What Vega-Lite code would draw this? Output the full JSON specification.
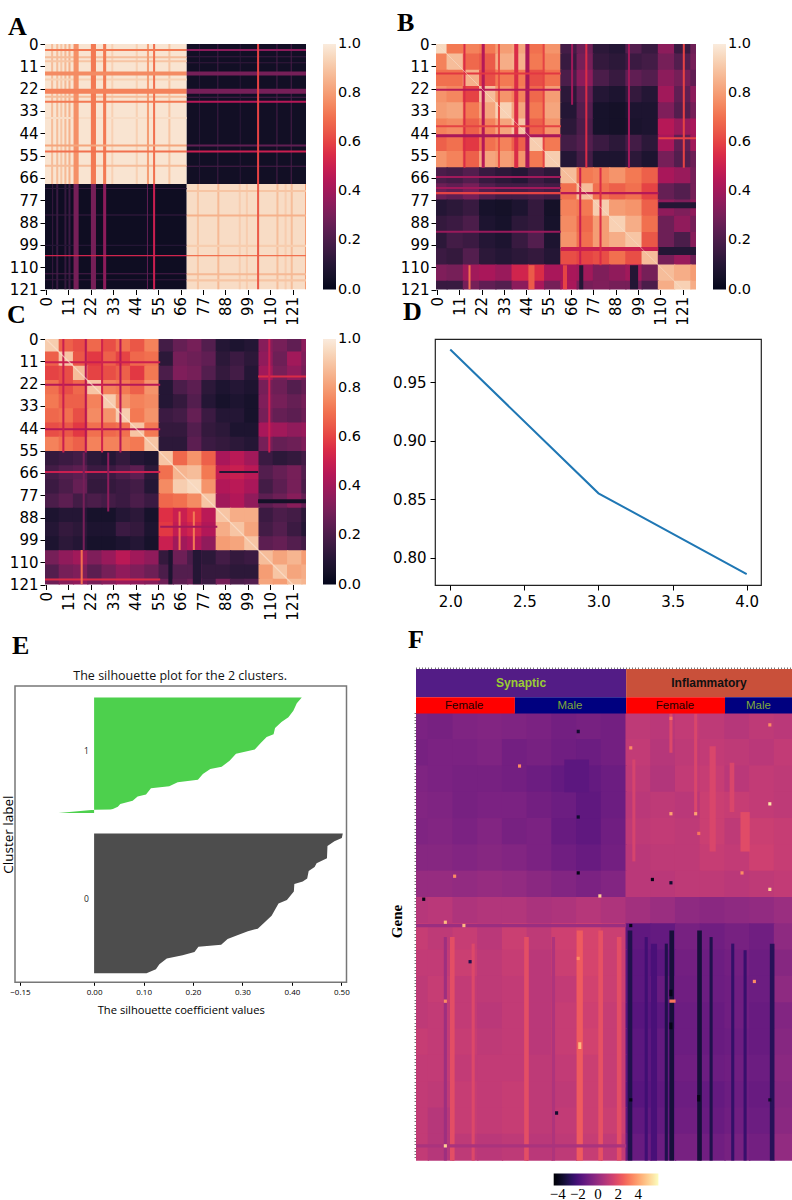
{"$schema":"https://vega.github.io/schema/vega-lite/v6.json","padding":{"left":0,"top":10,"right":0,"bottom":0},"bounds":"flush","spacing":0,"resolve":{"scale":{"color":"independent","fill":"independent"}},"config":{"view":{"stroke":null},"axis":{"grid":false,"labelFont":"DejaVu Sans","labelFontSize":15,"labelColor":"#000","tickColor":"#000","domain":false,"tickSize":5,"labelOverlap":false,"labelFlush":false,"labelPadding":2},"title":{"font":"Liberation Serif","fontWeight":"bold","fontSize":26,"anchor":"start","frame":"group","color":"#000"},"legend":{"gradientThickness":13,"gradientStrokeWidth":0,"labelFont":"DejaVu Sans","labelFontSize":14.5,"labelColor":"#000","labelOffset":12,"labelOverlap":false}},
"vconcat":[
{"bounds":"flush","spacing":0,"resolve":{"scale":{"color":"independent"}},"hconcat":[
{"width":30,"height":1,"mark":{"type":"rule","opacity":0},"encoding":{}},
{"width":261,"height":245.5,"title":{"text":"A","dx":-37,"offset":-3},"mark":{"type":"rect","clip":true},
"data":{"values":[
{"a":-1,"b":69,"c":0,"d":69,"v":0.98},{"a":69,"b":128,"c":0,"d":69,"v":0.04},{"a":-1,"b":69,"c":69,"d":121,"v":0.03},{"a":69,"b":128,"c":69,"d":121,"v":0.96},
{"a":2.5,"b":3.5,"c":0,"d":69,"v":0.88},{"a":5,"b":6,"c":0,"d":69,"v":0.88},{"a":7,"b":8,"c":0,"d":69,"v":0.9},{"a":9,"b":10,"c":0,"d":69,"v":0.87},{"a":11,"b":12,"c":0,"d":69,"v":0.85},{"a":60,"b":61,"c":0,"d":69,"v":0.9},{"a":44,"b":45,"c":0,"d":69,"v":0.93},{"a":32,"b":33,"c":0,"d":69,"v":0.93},
{"a":-1,"b":69,"c":6,"d":7,"v":0.88},{"a":-1,"b":69,"c":8,"d":9,"v":0.9},{"a":-1,"b":69,"c":25.5,"d":26.5,"v":0.88},{"a":-1,"b":69,"c":59.5,"d":60.5,"v":0.88},{"a":-1,"b":69,"c":17,"d":18,"v":0.93},{"a":-1,"b":69,"c":36,"d":37,"v":0.96},
{"a":13.5,"b":16,"c":0,"d":69,"v":0.77},{"a":22,"b":24.5,"c":0,"d":69,"v":0.72},{"a":28,"b":29.5,"c":0,"d":69,"v":0.72},{"a":49.5,"b":50.5,"c":0,"d":69,"v":0.8},{"a":52.5,"b":53.5,"c":0,"d":69,"v":0.7},
{"a":-1,"b":69,"c":2.5,"d":3.5,"v":0.72},{"a":-1,"b":69,"c":13.5,"d":15.5,"v":0.76},{"a":-1,"b":69,"c":22,"d":24.5,"v":0.74},{"a":-1,"b":69,"c":28,"d":29,"v":0.72},{"a":-1,"b":69,"c":49.5,"d":50.5,"v":0.82},{"a":-1,"b":69,"c":52.5,"d":53.5,"v":0.7},
{"a":69,"b":128,"c":6,"d":6.5,"v":0.15},{"a":69,"b":128,"c":9,"d":9.5,"v":0.14},{"a":69,"b":128,"c":60,"d":60.5,"v":0.2},{"a":69,"b":128,"c":26,"d":26.5,"v":0.2},{"a":84,"b":84.5,"c":0,"d":69,"v":0.18},{"a":113,"b":113.5,"c":0,"d":69,"v":0.2},{"a":120,"b":120.5,"c":0,"d":69,"v":0.2},{"a":75,"b":75.5,"c":0,"d":69,"v":0.12},{"a":95,"b":95.5,"c":0,"d":69,"v":0.12},
{"a":69,"b":128,"c":2.5,"d":3.5,"v":0.35},{"a":69,"b":128,"c":13.5,"d":15.5,"v":0.3},{"a":69,"b":128,"c":22,"d":24.5,"v":0.3},{"a":69,"b":128,"c":28,"d":29,"v":0.45},{"a":69,"b":128,"c":49.5,"d":50.5,"v":0.25},{"a":69,"b":128,"c":52.5,"d":53.5,"v":0.5},{"a":103.5,"b":104.5,"c":0,"d":69,"v":0.6},
{"a":3,"b":3.5,"c":69,"d":121,"v":0.15},{"a":5,"b":6,"c":69,"d":121,"v":0.15},{"a":9,"b":10,"c":69,"d":121,"v":0.14},{"a":11,"b":12,"c":69,"d":121,"v":0.16},{"a":-1,"b":69,"c":71,"d":71.5,"v":0.12},{"a":-1,"b":69,"c":84,"d":84.5,"v":0.15},{"a":-1,"b":69,"c":99,"d":99.5,"v":0.1},{"a":-1,"b":69,"c":113,"d":113.5,"v":0.2},{"a":-1,"b":69,"c":116,"d":116.5,"v":0.14},
{"a":13.5,"b":16,"c":69,"d":121,"v":0.3},{"a":22,"b":24.5,"c":69,"d":121,"v":0.3},{"a":28,"b":29.5,"c":69,"d":121,"v":0.35},{"a":49.5,"b":50,"c":69,"d":121,"v":0.25},{"a":52.5,"b":53.5,"c":69,"d":121,"v":0.5},{"a":-1,"b":69,"c":104,"d":104.6,"v":0.52},
{"a":74,"b":75,"c":69,"d":121,"v":0.9},{"a":84,"b":85,"c":69,"d":121,"v":0.87},{"a":94.5,"b":95.5,"c":69,"d":121,"v":0.92},{"a":98,"b":99,"c":69,"d":121,"v":0.92},{"a":113,"b":114,"c":69,"d":121,"v":0.88},{"a":120,"b":121,"c":69,"d":121,"v":0.88},{"a":127,"b":128,"c":69,"d":121,"v":0.8},{"a":117,"b":118,"c":69,"d":121,"v":0.92},
{"a":69,"b":128,"c":72,"d":73,"v":0.9},{"a":69,"b":128,"c":84,"d":85,"v":0.85},{"a":69,"b":128,"c":99,"d":100,"v":0.92},{"a":69,"b":128,"c":113,"d":114,"v":0.87},{"a":69,"b":128,"c":116,"d":117,"v":0.9},{"a":69,"b":128,"c":104,"d":104.6,"v":0.7},{"a":103.5,"b":104.5,"c":69,"d":121,"v":0.65}
]},
"encoding":{"x":{"field":"a","type":"quantitative","title":null,"scale":{"domain":[-0.5,127.5],"nice":false,"zero":false},"axis":{"values":[0,11,22,33,44,55,66,77,88,99,110,121],"labelAngle":270}},"x2":{"field":"b"},"y":{"field":"c","type":"quantitative","title":null,"scale":{"domain":[0,121],"reverse":true,"nice":false,"zero":false},"axis":{"values":[0,11,22,33,44,55,66,77,88,99,110,121]}},"y2":{"field":"d"},"color":{"field":"v","type":"quantitative","title":null,"scale":{"domain":[0,1],"range":["#03051a","#35193e","#701f57","#ad1759","#e13342","#f37651","#f6b48f","#faebdd"]},"legend":{"orient":"none","direction":"vertical","gradientLength":245.5,"legendX":278,"legendY":0,"values":[0,0.2,0.4,0.6,0.8,1],"format":".1f","encoding":{"labels":{"baseline":{"value":"middle"}}}}}}},
{"width":130,"height":1,"mark":{"type":"rule","opacity":0},"encoding":{}},
{"width":260,"height":245.5,"title":{"text":"B","dx":-39,"offset":1},
"encoding":{"x":{"field":"x","type":"quantitative","title":null,"scale":{"domain":[-0.5,127.5],"nice":false,"zero":false},"axis":{"values":[0,11,22,33,44,55,66,77,88,99,110,121],"labelAngle":270}},"y":{"field":"y","type":"quantitative","title":null,"scale":{"domain":[0,121],"reverse":true,"nice":false,"zero":false},"axis":{"values":[0,11,22,33,44,55,66,77,88,99,110,121]}}},
"layer":[{"mark":{"type":"rect","clip":true,"width":17.5,"height":17.5},
"data":{"values":[
{"x":1,"y":1,"v":0.95},{"x":9,"y":1,"v":0.72},{"x":17,"y":1,"v":0.74},{"x":25,"y":1,"v":0.72},{"x":33,"y":1,"v":0.8},{"x":41,"y":1,"v":0.82},{"x":49,"y":1,"v":0.7},{"x":57,"y":1,"v":0.78},{"x":65,"y":1,"v":0.18},{"x":73,"y":1,"v":0.28},{"x":81,"y":1,"v":0.12},{"x":89,"y":1,"v":0.1},{"x":97,"y":1,"v":0.22},{"x":105,"y":1,"v":0.15},{"x":113,"y":1,"v":0.35},{"x":121,"y":1,"v":0.15},{"x":129,"y":1,"v":0.28},
{"x":1,"y":9,"v":0.74},{"x":9,"y":9,"v":0.88},{"x":17,"y":9,"v":0.68},{"x":25,"y":9,"v":0.65},{"x":33,"y":9,"v":0.84},{"x":41,"y":9,"v":0.85},{"x":49,"y":9,"v":0.72},{"x":57,"y":9,"v":0.75},{"x":65,"y":9,"v":0.15},{"x":73,"y":9,"v":0.3},{"x":81,"y":9,"v":0.14},{"x":89,"y":9,"v":0.12},{"x":97,"y":9,"v":0.16},{"x":105,"y":9,"v":0.18},{"x":113,"y":9,"v":0.3},{"x":121,"y":9,"v":0.22},{"x":129,"y":9,"v":0.3},
{"x":1,"y":17,"v":0.7},{"x":9,"y":17,"v":0.7},{"x":17,"y":17,"v":0.85},{"x":25,"y":17,"v":0.62},{"x":33,"y":17,"v":0.72},{"x":41,"y":17,"v":0.72},{"x":49,"y":17,"v":0.62},{"x":57,"y":17,"v":0.7},{"x":65,"y":17,"v":0.2},{"x":73,"y":17,"v":0.35},{"x":81,"y":17,"v":0.2},{"x":89,"y":17,"v":0.15},{"x":97,"y":17,"v":0.25},{"x":105,"y":17,"v":0.22},{"x":113,"y":17,"v":0.35},{"x":121,"y":17,"v":0.3},{"x":129,"y":17,"v":0.25},
{"x":1,"y":25,"v":0.78},{"x":9,"y":25,"v":0.75},{"x":17,"y":25,"v":0.6},{"x":25,"y":25,"v":0.88},{"x":33,"y":25,"v":0.78},{"x":41,"y":25,"v":0.74},{"x":49,"y":25,"v":0.68},{"x":57,"y":25,"v":0.8},{"x":65,"y":25,"v":0.12},{"x":73,"y":25,"v":0.25},{"x":81,"y":25,"v":0.1},{"x":89,"y":25,"v":0.08},{"x":97,"y":25,"v":0.14},{"x":105,"y":25,"v":0.1},{"x":113,"y":25,"v":0.4},{"x":121,"y":25,"v":0.25},{"x":129,"y":25,"v":0.35},
{"x":1,"y":33,"v":0.8},{"x":9,"y":33,"v":0.82},{"x":17,"y":33,"v":0.72},{"x":25,"y":33,"v":0.82},{"x":33,"y":33,"v":0.93},{"x":41,"y":33,"v":0.82},{"x":49,"y":33,"v":0.72},{"x":57,"y":33,"v":0.82},{"x":65,"y":33,"v":0.1},{"x":73,"y":33,"v":0.22},{"x":81,"y":33,"v":0.06},{"x":89,"y":33,"v":0.05},{"x":97,"y":33,"v":0.08},{"x":105,"y":33,"v":0.08},{"x":113,"y":33,"v":0.32},{"x":121,"y":33,"v":0.22},{"x":129,"y":33,"v":0.3},
{"x":1,"y":41,"v":0.74},{"x":9,"y":41,"v":0.76},{"x":17,"y":41,"v":0.66},{"x":25,"y":41,"v":0.74},{"x":33,"y":41,"v":0.82},{"x":41,"y":41,"v":0.9},{"x":49,"y":41,"v":0.66},{"x":57,"y":41,"v":0.78},{"x":65,"y":41,"v":0.12},{"x":73,"y":41,"v":0.2},{"x":81,"y":41,"v":0.06},{"x":89,"y":41,"v":0.05},{"x":97,"y":41,"v":0.07},{"x":105,"y":41,"v":0.08},{"x":113,"y":41,"v":0.45},{"x":121,"y":41,"v":0.38},{"x":129,"y":41,"v":0.42},
{"x":1,"y":49,"v":0.66},{"x":9,"y":49,"v":0.7},{"x":17,"y":49,"v":0.58},{"x":25,"y":49,"v":0.7},{"x":33,"y":49,"v":0.74},{"x":41,"y":49,"v":0.66},{"x":49,"y":49,"v":0.92},{"x":57,"y":49,"v":0.72},{"x":65,"y":49,"v":0.18},{"x":73,"y":49,"v":0.22},{"x":81,"y":49,"v":0.16},{"x":89,"y":49,"v":0.12},{"x":97,"y":49,"v":0.18},{"x":105,"y":49,"v":0.12},{"x":113,"y":49,"v":0.42},{"x":121,"y":49,"v":0.25},{"x":129,"y":49,"v":0.4},
{"x":1,"y":57,"v":0.78},{"x":9,"y":57,"v":0.74},{"x":17,"y":57,"v":0.66},{"x":25,"y":57,"v":0.82},{"x":33,"y":57,"v":0.8},{"x":41,"y":57,"v":0.78},{"x":49,"y":57,"v":0.72},{"x":57,"y":57,"v":0.92},{"x":65,"y":57,"v":0.1},{"x":73,"y":57,"v":0.18},{"x":81,"y":57,"v":0.08},{"x":89,"y":57,"v":0.08},{"x":97,"y":57,"v":0.12},{"x":105,"y":57,"v":0.08},{"x":113,"y":57,"v":0.3},{"x":121,"y":57,"v":0.22},{"x":129,"y":57,"v":0.28},
{"x":1,"y":65,"v":0.2},{"x":9,"y":65,"v":0.18},{"x":17,"y":65,"v":0.22},{"x":25,"y":65,"v":0.15},{"x":33,"y":65,"v":0.12},{"x":41,"y":65,"v":0.1},{"x":49,"y":65,"v":0.16},{"x":57,"y":65,"v":0.12},{"x":65,"y":65,"v":0.88},{"x":73,"y":65,"v":0.72},{"x":81,"y":65,"v":0.74},{"x":89,"y":65,"v":0.78},{"x":97,"y":65,"v":0.72},{"x":105,"y":65,"v":0.66},{"x":113,"y":65,"v":0.42},{"x":121,"y":65,"v":0.38},{"x":129,"y":65,"v":0.3},
{"x":1,"y":73,"v":0.28},{"x":9,"y":73,"v":0.25},{"x":17,"y":73,"v":0.3},{"x":25,"y":73,"v":0.22},{"x":33,"y":73,"v":0.18},{"x":41,"y":73,"v":0.18},{"x":49,"y":73,"v":0.2},{"x":57,"y":73,"v":0.18},{"x":65,"y":73,"v":0.7},{"x":73,"y":73,"v":0.88},{"x":81,"y":73,"v":0.7},{"x":89,"y":73,"v":0.66},{"x":97,"y":73,"v":0.7},{"x":105,"y":73,"v":0.6},{"x":113,"y":73,"v":0.26},{"x":121,"y":73,"v":0.22},{"x":129,"y":73,"v":0.3},
{"x":1,"y":81,"v":0.1},{"x":9,"y":81,"v":0.12},{"x":17,"y":81,"v":0.15},{"x":25,"y":81,"v":0.06},{"x":33,"y":81,"v":0.05},{"x":41,"y":81,"v":0.08},{"x":49,"y":81,"v":0.14},{"x":57,"y":81,"v":0.05},{"x":65,"y":81,"v":0.74},{"x":73,"y":81,"v":0.72},{"x":81,"y":81,"v":0.92},{"x":89,"y":81,"v":0.8},{"x":97,"y":81,"v":0.78},{"x":105,"y":81,"v":0.66},{"x":113,"y":81,"v":0.36},{"x":121,"y":81,"v":0.32},{"x":129,"y":81,"v":0.36},
{"x":1,"y":89,"v":0.14},{"x":9,"y":89,"v":0.16},{"x":17,"y":89,"v":0.2},{"x":25,"y":89,"v":0.08},{"x":33,"y":89,"v":0.06},{"x":41,"y":89,"v":0.12},{"x":49,"y":89,"v":0.14},{"x":57,"y":89,"v":0.06},{"x":65,"y":89,"v":0.76},{"x":73,"y":89,"v":0.68},{"x":81,"y":89,"v":0.8},{"x":89,"y":89,"v":0.93},{"x":97,"y":89,"v":0.84},{"x":105,"y":89,"v":0.7},{"x":113,"y":89,"v":0.28},{"x":121,"y":89,"v":0.36},{"x":129,"y":89,"v":0.3},
{"x":1,"y":97,"v":0.12},{"x":9,"y":97,"v":0.18},{"x":17,"y":97,"v":0.16},{"x":25,"y":97,"v":0.1},{"x":33,"y":97,"v":0.08},{"x":41,"y":97,"v":0.15},{"x":49,"y":97,"v":0.22},{"x":57,"y":97,"v":0.08},{"x":65,"y":97,"v":0.78},{"x":73,"y":97,"v":0.7},{"x":81,"y":97,"v":0.8},{"x":89,"y":97,"v":0.84},{"x":97,"y":97,"v":0.9},{"x":105,"y":97,"v":0.64},{"x":113,"y":97,"v":0.28},{"x":121,"y":97,"v":0.2},{"x":129,"y":97,"v":0.34},
{"x":1,"y":105,"v":0.16},{"x":9,"y":105,"v":0.14},{"x":17,"y":105,"v":0.22},{"x":25,"y":105,"v":0.12},{"x":33,"y":105,"v":0.1},{"x":41,"y":105,"v":0.12},{"x":49,"y":105,"v":0.14},{"x":57,"y":105,"v":0.1},{"x":65,"y":105,"v":0.62},{"x":73,"y":105,"v":0.6},{"x":81,"y":105,"v":0.62},{"x":89,"y":105,"v":0.7},{"x":97,"y":105,"v":0.62},{"x":105,"y":105,"v":0.88},{"x":113,"y":105,"v":0.3},{"x":121,"y":105,"v":0.38},{"x":129,"y":105,"v":0.28},
{"x":1,"y":113,"v":0.32},{"x":9,"y":113,"v":0.3},{"x":17,"y":113,"v":0.4},{"x":25,"y":113,"v":0.42},{"x":33,"y":113,"v":0.38},{"x":41,"y":113,"v":0.52},{"x":49,"y":113,"v":0.55},{"x":57,"y":113,"v":0.42},{"x":65,"y":113,"v":0.42},{"x":73,"y":113,"v":0.4},{"x":81,"y":113,"v":0.32},{"x":89,"y":113,"v":0.36},{"x":97,"y":113,"v":0.4},{"x":105,"y":113,"v":0.3},{"x":113,"y":113,"v":0.88},{"x":121,"y":113,"v":0.84},{"x":129,"y":113,"v":0.8},
{"x":1,"y":121,"v":0.15},{"x":9,"y":121,"v":0.15},{"x":17,"y":121,"v":0.3},{"x":25,"y":121,"v":0.25},{"x":33,"y":121,"v":0.22},{"x":41,"y":121,"v":0.35},{"x":49,"y":121,"v":0.42},{"x":57,"y":121,"v":0.3},{"x":65,"y":121,"v":0.42},{"x":73,"y":121,"v":0.3},{"x":81,"y":121,"v":0.32},{"x":89,"y":121,"v":0.3},{"x":97,"y":121,"v":0.3},{"x":105,"y":121,"v":0.2},{"x":113,"y":121,"v":0.84},{"x":121,"y":121,"v":0.93},{"x":129,"y":121,"v":0.84}
]},
"encoding":{"color":{"field":"v","type":"quantitative","title":null,"scale":{"domain":[0,1],"range":["#03051a","#35193e","#701f57","#ad1759","#e13342","#f37651","#f6b48f","#faebdd"]},"legend":{"orient":"none","direction":"vertical","gradientLength":245.5,"legendX":277,"legendY":0,"values":[0,0.2,0.4,0.6,0.8,1],"format":".1f","encoding":{"labels":{"baseline":{"value":"middle"}}}}}}},
{"mark":{"type":"rect","clip":true},
"data":{"values":[
{"x":22,"b":23.5,"y":0,"d":61,"v":0.45},{"x":43.5,"b":45.5,"y":0,"d":61,"v":0.42},{"x":38,"b":40,"y":0,"d":61,"v":0.55},{"x":13,"b":14,"y":0,"d":61,"v":0.55},{"x":30,"b":31,"y":0,"d":61,"v":0.62},{"x":52,"b":53,"y":0,"d":61,"v":0.6},{"x":-1,"b":61,"y":22,"d":23,"v":0.45},{"x":-1,"b":61,"y":44.5,"d":46,"v":0.42},{"x":-1,"b":61,"y":40,"d":41,"v":0.6},{"x":-1,"b":61,"y":14,"d":15,"v":0.58},
{"x":73,"b":74,"y":0,"d":61,"v":0.55},{"x":66,"b":67,"y":0,"d":30,"v":0.4},{"x":94,"b":95,"y":0,"d":61,"v":0.4},{"x":-1,"b":61,"y":73,"d":74,"v":0.6},{"x":-1,"b":61,"y":70.5,"d":71.5,"v":0.4},{"x":-1,"b":61,"y":92,"d":93,"v":0.38},{"x":-1,"b":61,"y":65,"d":66,"v":0.4},
{"x":61,"b":109,"y":73,"d":74,"v":0.45},{"x":61,"b":109,"y":100,"d":102,"v":0.5},{"x":70,"b":71,"y":61,"d":109,"v":0.5},{"x":80,"b":81,"y":61,"d":109,"v":0.55},
{"x":109,"b":128,"y":100,"d":104,"v":0.1},{"x":109,"b":128,"y":78,"d":81,"v":0.1},{"x":109,"b":128,"y":46,"d":47,"v":0.6},{"x":121,"b":122,"y":0,"d":61,"v":0.6},
{"x":15.5,"b":16.5,"y":109,"d":121,"v":0.7},{"x":45,"b":48,"y":109,"d":121,"v":0.65},{"x":62,"b":64,"y":109,"d":121,"v":0.6},{"x":95,"b":99,"y":109,"d":121,"v":0.1},{"x":70,"b":72,"y":109,"d":121,"v":0.1}
]},
"encoding":{"x2":{"field":"b"},"y2":{"field":"d"},"color":{"field":"v","type":"quantitative","title":null,"scale":{"domain":[0,1],"range":["#03051a","#35193e","#701f57","#ad1759","#e13342","#f37651","#f6b48f","#faebdd"]},"legend":null}}},
{"mark":{"type":"line","color":"#fae4d2","strokeWidth":1,"opacity":0.5,"clip":true},"data":{"values":[{"x":0,"y":0},{"x":121,"y":121}]}}]}
]},
{"width":1,"height":295,"mark":{"type":"rule","opacity":0},"encoding":{}},
{"bounds":"flush","spacing":0,"resolve":{"scale":{"color":"independent"}},"hconcat":[
{"width":30,"height":1,"mark":{"type":"rule","opacity":0},"encoding":{}},
{"width":261,"height":245.5,"title":{"text":"C","dx":-38,"offset":4},
"encoding":{"x":{"field":"x","type":"quantitative","title":null,"scale":{"domain":[-0.5,127.5],"nice":false,"zero":false},"axis":{"values":[0,11,22,33,44,55,66,77,88,99,110,121],"labelAngle":270}},"y":{"field":"y","type":"quantitative","title":null,"scale":{"domain":[0,121],"reverse":true,"nice":false,"zero":false},"axis":{"values":[0,11,22,33,44,55,66,77,88,99,110,121]}}},
"layer":[{"mark":{"type":"rect","clip":true,"width":15.5,"height":15.5},
"data":{"values":[
{"x":3,"y":3,"v":0.92},{"x":10,"y":3,"v":0.66},{"x":17,"y":3,"v":0.62},{"x":24,"y":3,"v":0.68},{"x":31,"y":3,"v":0.62},{"x":38,"y":3,"v":0.7},{"x":45,"y":3,"v":0.64},{"x":52,"y":3,"v":0.74},{"x":59,"y":3,"v":0.18},{"x":66,"y":3,"v":0.26},{"x":73,"y":3,"v":0.3},{"x":80,"y":3,"v":0.22},{"x":87,"y":3,"v":0.1},{"x":94,"y":3,"v":0.08},{"x":101,"y":3,"v":0.1},{"x":108,"y":3,"v":0.34},{"x":115,"y":3,"v":0.3},{"x":122,"y":3,"v":0.25},{"x":129,"y":3,"v":0.35},
{"x":3,"y":10,"v":0.66},{"x":10,"y":10,"v":0.9},{"x":17,"y":10,"v":0.64},{"x":24,"y":10,"v":0.58},{"x":31,"y":10,"v":0.66},{"x":38,"y":10,"v":0.6},{"x":45,"y":10,"v":0.68},{"x":52,"y":10,"v":0.7},{"x":59,"y":10,"v":0.12},{"x":66,"y":10,"v":0.3},{"x":73,"y":10,"v":0.28},{"x":80,"y":10,"v":0.25},{"x":87,"y":10,"v":0.12},{"x":94,"y":10,"v":0.16},{"x":101,"y":10,"v":0.12},{"x":108,"y":10,"v":0.36},{"x":115,"y":10,"v":0.28},{"x":122,"y":10,"v":0.4},{"x":129,"y":10,"v":0.32},
{"x":3,"y":17,"v":0.6},{"x":10,"y":17,"v":0.62},{"x":17,"y":17,"v":0.88},{"x":24,"y":17,"v":0.6},{"x":31,"y":17,"v":0.62},{"x":38,"y":17,"v":0.66},{"x":45,"y":17,"v":0.58},{"x":52,"y":17,"v":0.72},{"x":59,"y":17,"v":0.2},{"x":66,"y":17,"v":0.32},{"x":73,"y":17,"v":0.3},{"x":80,"y":17,"v":0.22},{"x":87,"y":17,"v":0.14},{"x":94,"y":17,"v":0.18},{"x":101,"y":17,"v":0.1},{"x":108,"y":17,"v":0.4},{"x":115,"y":17,"v":0.3},{"x":122,"y":17,"v":0.36},{"x":129,"y":17,"v":0.3},
{"x":3,"y":24,"v":0.7},{"x":10,"y":24,"v":0.62},{"x":17,"y":24,"v":0.68},{"x":24,"y":24,"v":0.9},{"x":31,"y":24,"v":0.74},{"x":38,"y":24,"v":0.72},{"x":45,"y":24,"v":0.66},{"x":52,"y":24,"v":0.78},{"x":59,"y":24,"v":0.1},{"x":66,"y":24,"v":0.2},{"x":73,"y":24,"v":0.24},{"x":80,"y":24,"v":0.12},{"x":87,"y":24,"v":0.08},{"x":94,"y":24,"v":0.1},{"x":101,"y":24,"v":0.08},{"x":108,"y":24,"v":0.3},{"x":115,"y":24,"v":0.28},{"x":122,"y":24,"v":0.22},{"x":129,"y":24,"v":0.26},
{"x":3,"y":31,"v":0.72},{"x":10,"y":31,"v":0.66},{"x":17,"y":31,"v":0.66},{"x":24,"y":31,"v":0.74},{"x":31,"y":31,"v":0.92},{"x":38,"y":31,"v":0.78},{"x":45,"y":31,"v":0.74},{"x":52,"y":31,"v":0.76},{"x":59,"y":31,"v":0.1},{"x":66,"y":31,"v":0.14},{"x":73,"y":31,"v":0.22},{"x":80,"y":31,"v":0.1},{"x":87,"y":31,"v":0.06},{"x":94,"y":31,"v":0.08},{"x":101,"y":31,"v":0.06},{"x":108,"y":31,"v":0.32},{"x":115,"y":31,"v":0.3},{"x":122,"y":31,"v":0.26},{"x":129,"y":31,"v":0.3},
{"x":3,"y":38,"v":0.68},{"x":10,"y":38,"v":0.7},{"x":17,"y":38,"v":0.62},{"x":24,"y":38,"v":0.76},{"x":31,"y":38,"v":0.78},{"x":38,"y":38,"v":0.92},{"x":45,"y":38,"v":0.72},{"x":52,"y":38,"v":0.78},{"x":59,"y":38,"v":0.16},{"x":66,"y":38,"v":0.18},{"x":73,"y":38,"v":0.26},{"x":80,"y":38,"v":0.16},{"x":87,"y":38,"v":0.1},{"x":94,"y":38,"v":0.1},{"x":101,"y":38,"v":0.06},{"x":108,"y":38,"v":0.3},{"x":115,"y":38,"v":0.26},{"x":122,"y":38,"v":0.24},{"x":129,"y":38,"v":0.28},
{"x":3,"y":45,"v":0.62},{"x":10,"y":45,"v":0.64},{"x":17,"y":45,"v":0.58},{"x":24,"y":45,"v":0.7},{"x":31,"y":45,"v":0.68},{"x":38,"y":45,"v":0.7},{"x":45,"y":45,"v":0.9},{"x":52,"y":45,"v":0.72},{"x":59,"y":45,"v":0.14},{"x":66,"y":45,"v":0.14},{"x":73,"y":45,"v":0.22},{"x":80,"y":45,"v":0.14},{"x":87,"y":45,"v":0.12},{"x":94,"y":45,"v":0.08},{"x":101,"y":45,"v":0.08},{"x":108,"y":45,"v":0.42},{"x":115,"y":45,"v":0.4},{"x":122,"y":45,"v":0.36},{"x":129,"y":45,"v":0.38},
{"x":3,"y":52,"v":0.74},{"x":10,"y":52,"v":0.7},{"x":17,"y":52,"v":0.66},{"x":24,"y":52,"v":0.74},{"x":31,"y":52,"v":0.74},{"x":38,"y":52,"v":0.74},{"x":45,"y":52,"v":0.72},{"x":52,"y":52,"v":0.9},{"x":59,"y":52,"v":0.12},{"x":66,"y":52,"v":0.12},{"x":73,"y":52,"v":0.24},{"x":80,"y":52,"v":0.16},{"x":87,"y":52,"v":0.14},{"x":94,"y":52,"v":0.12},{"x":101,"y":52,"v":0.1},{"x":108,"y":52,"v":0.3},{"x":115,"y":52,"v":0.26},{"x":122,"y":52,"v":0.28},{"x":129,"y":52,"v":0.32},
{"x":3,"y":59,"v":0.14},{"x":10,"y":59,"v":0.16},{"x":17,"y":59,"v":0.18},{"x":24,"y":59,"v":0.12},{"x":31,"y":59,"v":0.1},{"x":38,"y":59,"v":0.14},{"x":45,"y":59,"v":0.1},{"x":52,"y":59,"v":0.08},{"x":59,"y":59,"v":0.9},{"x":66,"y":59,"v":0.68},{"x":73,"y":59,"v":0.78},{"x":80,"y":59,"v":0.66},{"x":87,"y":59,"v":0.42},{"x":94,"y":59,"v":0.46},{"x":101,"y":59,"v":0.4},{"x":108,"y":59,"v":0.16},{"x":115,"y":59,"v":0.12},{"x":122,"y":59,"v":0.14},{"x":129,"y":59,"v":0.18},
{"x":3,"y":66,"v":0.18},{"x":10,"y":66,"v":0.22},{"x":17,"y":66,"v":0.24},{"x":24,"y":66,"v":0.16},{"x":31,"y":66,"v":0.16},{"x":38,"y":66,"v":0.2},{"x":45,"y":66,"v":0.24},{"x":52,"y":66,"v":0.12},{"x":59,"y":66,"v":0.7},{"x":66,"y":66,"v":0.86},{"x":73,"y":66,"v":0.88},{"x":80,"y":66,"v":0.72},{"x":87,"y":66,"v":0.48},{"x":94,"y":66,"v":0.5},{"x":101,"y":66,"v":0.46},{"x":108,"y":66,"v":0.22},{"x":115,"y":66,"v":0.26},{"x":122,"y":66,"v":0.3},{"x":129,"y":66,"v":0.22},
{"x":3,"y":73,"v":0.16},{"x":10,"y":73,"v":0.2},{"x":17,"y":73,"v":0.26},{"x":24,"y":73,"v":0.14},{"x":31,"y":73,"v":0.14},{"x":38,"y":73,"v":0.16},{"x":45,"y":73,"v":0.18},{"x":52,"y":73,"v":0.1},{"x":59,"y":73,"v":0.76},{"x":66,"y":73,"v":0.92},{"x":73,"y":73,"v":0.95},{"x":80,"y":73,"v":0.78},{"x":87,"y":73,"v":0.44},{"x":94,"y":73,"v":0.46},{"x":101,"y":73,"v":0.42},{"x":108,"y":73,"v":0.18},{"x":115,"y":73,"v":0.24},{"x":122,"y":73,"v":0.3},{"x":129,"y":73,"v":0.2},
{"x":3,"y":80,"v":0.2},{"x":10,"y":80,"v":0.24},{"x":17,"y":80,"v":0.18},{"x":24,"y":80,"v":0.2},{"x":31,"y":80,"v":0.18},{"x":38,"y":80,"v":0.16},{"x":45,"y":80,"v":0.2},{"x":52,"y":80,"v":0.16},{"x":59,"y":80,"v":0.68},{"x":66,"y":80,"v":0.7},{"x":73,"y":80,"v":0.76},{"x":80,"y":80,"v":0.9},{"x":87,"y":80,"v":0.4},{"x":94,"y":80,"v":0.44},{"x":101,"y":80,"v":0.36},{"x":108,"y":80,"v":0.24},{"x":115,"y":80,"v":0.28},{"x":122,"y":80,"v":0.34},{"x":129,"y":80,"v":0.26},
{"x":3,"y":87,"v":0.08},{"x":10,"y":87,"v":0.1},{"x":17,"y":87,"v":0.1},{"x":24,"y":87,"v":0.06},{"x":31,"y":87,"v":0.06},{"x":38,"y":87,"v":0.1},{"x":45,"y":87,"v":0.12},{"x":52,"y":87,"v":0.06},{"x":59,"y":87,"v":0.56},{"x":66,"y":87,"v":0.5},{"x":73,"y":87,"v":0.56},{"x":80,"y":87,"v":0.46},{"x":87,"y":87,"v":0.9},{"x":94,"y":87,"v":0.84},{"x":101,"y":87,"v":0.84},{"x":108,"y":87,"v":0.16},{"x":115,"y":87,"v":0.2},{"x":122,"y":87,"v":0.18},{"x":129,"y":87,"v":0.12},
{"x":3,"y":94,"v":0.1},{"x":10,"y":94,"v":0.14},{"x":17,"y":94,"v":0.12},{"x":24,"y":94,"v":0.08},{"x":31,"y":94,"v":0.08},{"x":38,"y":94,"v":0.16},{"x":45,"y":94,"v":0.14},{"x":52,"y":94,"v":0.08},{"x":59,"y":94,"v":0.58},{"x":66,"y":94,"v":0.48},{"x":73,"y":94,"v":0.52},{"x":80,"y":94,"v":0.44},{"x":87,"y":94,"v":0.84},{"x":94,"y":94,"v":0.9},{"x":101,"y":94,"v":0.82},{"x":108,"y":94,"v":0.18},{"x":115,"y":94,"v":0.22},{"x":122,"y":94,"v":0.16},{"x":129,"y":94,"v":0.1},
{"x":3,"y":101,"v":0.08},{"x":10,"y":101,"v":0.12},{"x":17,"y":101,"v":0.1},{"x":24,"y":101,"v":0.06},{"x":31,"y":101,"v":0.06},{"x":38,"y":101,"v":0.08},{"x":45,"y":101,"v":0.1},{"x":52,"y":101,"v":0.06},{"x":59,"y":101,"v":0.5},{"x":66,"y":101,"v":0.4},{"x":73,"y":101,"v":0.44},{"x":80,"y":101,"v":0.36},{"x":87,"y":101,"v":0.8},{"x":94,"y":101,"v":0.82},{"x":101,"y":101,"v":0.9},{"x":108,"y":101,"v":0.24},{"x":115,"y":101,"v":0.26},{"x":122,"y":101,"v":0.22},{"x":129,"y":101,"v":0.18},
{"x":3,"y":108,"v":0.3},{"x":10,"y":108,"v":0.36},{"x":17,"y":108,"v":0.4},{"x":24,"y":108,"v":0.32},{"x":31,"y":108,"v":0.38},{"x":38,"y":108,"v":0.46},{"x":45,"y":108,"v":0.4},{"x":52,"y":108,"v":0.36},{"x":59,"y":108,"v":0.14},{"x":66,"y":108,"v":0.28},{"x":73,"y":108,"v":0.2},{"x":80,"y":108,"v":0.12},{"x":87,"y":108,"v":0.18},{"x":94,"y":108,"v":0.14},{"x":101,"y":108,"v":0.16},{"x":108,"y":108,"v":0.88},{"x":115,"y":108,"v":0.82},{"x":122,"y":108,"v":0.86},{"x":129,"y":108,"v":0.8},
{"x":3,"y":115,"v":0.22},{"x":10,"y":115,"v":0.3},{"x":17,"y":115,"v":0.32},{"x":24,"y":115,"v":0.24},{"x":31,"y":115,"v":0.3},{"x":38,"y":115,"v":0.36},{"x":45,"y":115,"v":0.32},{"x":52,"y":115,"v":0.28},{"x":59,"y":115,"v":0.2},{"x":66,"y":115,"v":0.22},{"x":73,"y":115,"v":0.22},{"x":80,"y":115,"v":0.14},{"x":87,"y":115,"v":0.14},{"x":94,"y":115,"v":0.12},{"x":101,"y":115,"v":0.12},{"x":108,"y":115,"v":0.8},{"x":115,"y":115,"v":0.9},{"x":122,"y":115,"v":0.82},{"x":129,"y":115,"v":0.84},
{"x":3,"y":122,"v":0.28},{"x":10,"y":122,"v":0.34},{"x":17,"y":122,"v":0.36},{"x":24,"y":122,"v":0.3},{"x":31,"y":122,"v":0.34},{"x":38,"y":122,"v":0.38},{"x":45,"y":122,"v":0.36},{"x":52,"y":122,"v":0.34},{"x":59,"y":122,"v":0.28},{"x":66,"y":122,"v":0.24},{"x":73,"y":122,"v":0.28},{"x":80,"y":122,"v":0.16},{"x":87,"y":122,"v":0.3},{"x":94,"y":122,"v":0.2},{"x":101,"y":122,"v":0.22},{"x":108,"y":122,"v":0.82},{"x":115,"y":122,"v":0.8},{"x":122,"y":122,"v":0.88},{"x":129,"y":122,"v":0.86}
]},
"encoding":{"color":{"field":"v","type":"quantitative","title":null,"scale":{"domain":[0,1],"range":["#03051a","#35193e","#701f57","#ad1759","#e13342","#f37651","#f6b48f","#faebdd"]},"legend":{"orient":"none","direction":"vertical","gradientLength":245.5,"legendX":278,"legendY":0,"values":[0,0.2,0.4,0.6,0.8,1],"format":".1f","encoding":{"labels":{"baseline":{"value":"middle"}}}}}}},
{"mark":{"type":"rect","clip":true},
"data":{"values":[
{"x":-1,"b":56,"y":22,"d":23,"v":0.45},{"x":-1,"b":56,"y":44,"d":45,"v":0.45},{"x":19,"b":20,"y":0,"d":56,"v":0.45},{"x":36,"b":37,"y":0,"d":56,"v":0.45},{"x":-1,"b":56,"y":11,"d":12,"v":0.5},{"x":8,"b":9,"y":0,"d":56,"v":0.5},{"x":27,"b":28,"y":0,"d":56,"v":0.52},
{"x":-1,"b":56,"y":65,"d":66,"v":0.5},{"x":-1,"b":56,"y":118,"d":119,"v":0.55},{"x":30,"b":31,"y":56,"d":85,"v":0.35},{"x":18,"b":19,"y":56,"d":104,"v":0.3},
{"x":104,"b":128,"y":18,"d":19,"v":0.55},{"x":85,"b":104,"y":65,"d":66,"v":0.1},{"x":104,"b":128,"y":79,"d":81,"v":0.05},{"x":109,"b":110,"y":0,"d":56,"v":0.5},
{"x":17,"b":18,"y":104,"d":121,"v":0.7},{"x":60,"b":62,"y":104,"d":121,"v":0.08},{"x":72,"b":76,"y":104,"d":121,"v":0.1},{"x":65,"b":66,"y":85,"d":104,"v":0.7},{"x":72,"b":73,"y":85,"d":104,"v":0.72},{"x":56,"b":84,"y":92,"d":93,"v":0.4}
]},
"encoding":{"x2":{"field":"b"},"y2":{"field":"d"},"color":{"field":"v","type":"quantitative","title":null,"scale":{"domain":[0,1],"range":["#03051a","#35193e","#701f57","#ad1759","#e13342","#f37651","#f6b48f","#faebdd"]},"legend":null}}},
{"mark":{"type":"line","color":"#fae4d2","strokeWidth":1.2,"opacity":0.65,"clip":true},"data":{"values":[{"x":0,"y":0},{"x":121,"y":121}]}}]},
{"width":129,"height":1,"mark":{"type":"rule","opacity":0},"encoding":{}},
{"width":326,"height":246,"title":{"text":"D","dx":-32,"offset":14},"view":{"stroke":"#222","strokeWidth":1.2},"mark":{"type":"line","color":"#1f77b4","strokeWidth":2},
"data":{"values":[{"k":2,"s":0.978},{"k":3,"s":0.855},{"k":4,"s":0.786}]},
"encoding":{"x":{"field":"k","type":"quantitative","title":null,"scale":{"domain":[1.897,4.0965],"nice":false,"zero":false},"axis":{"values":[2,2.5,3,3.5,4],"format":".1f","labelPadding":4}},"y":{"field":"s","type":"quantitative","title":null,"scale":{"domain":[0.7766,0.987],"nice":false,"zero":false},"axis":{"values":[0.8,0.85,0.9,0.95],"format":".2f","labelPadding":4}}}}
]},
{"width":1,"height":329.8,"mark":{"type":"rule","opacity":0},"encoding":{}},
{"bounds":"flush","spacing":0,"resolve":{"scale":{"color":"independent"}},"hconcat":[
{"bounds":"flush","spacing":0,"vconcat":[
{"width":1,"height":17,"mark":{"type":"rule","opacity":0},"encoding":{}},
{"width":331.5,"height":296.3,"view":{"stroke":"#777","strokeWidth":1.5},
"encoding":{"x":{"field":"v","type":"quantitative","scale":{"domain":[-0.16,0.5105],"nice":false,"zero":false},"axis":{"values":[-0.15,0,0.1,0.2,0.3,0.4,0.5],"format":".2f","labelFont":"Open Sans","labelFontSize":8,"tickSize":3,"labelPadding":3,"title":"The silhouette coefficient values","titleFont":"Open Sans","titleFontSize":11.2,"titleFontWeight":"normal","titlePadding":8}},"y":{"field":"s","type":"quantitative","scale":{"domain":[5.6,149.8],"nice":false,"zero":false},"axis":{"labels":false,"ticks":false,"title":"Cluster label","titleFont":"Open Sans","titleFontSize":13.5,"titleFontWeight":"normal","titlePadding":0}}},
"layer":[
{"mark":{"type":"area","orient":"horizontal","color":"#4dd04d"},"data":{"values":[{"v":-0.072,"s":88},{"v":0,"s":89.6},{"v":0.033,"s":89.7},{"v":0.038,"s":90},{"v":0.048,"s":91},{"v":0.053,"s":92.4},{"v":0.078,"s":94},{"v":0.088,"s":96},{"v":0.105,"s":97},{"v":0.115,"s":100},{"v":0.152,"s":101},{"v":0.169,"s":103},{"v":0.21,"s":104.2},{"v":0.22,"s":107},{"v":0.235,"s":109.4},{"v":0.258,"s":110.5},{"v":0.274,"s":113.4},{"v":0.287,"s":116.8},{"v":0.325,"s":118.9},{"v":0.337,"s":122},{"v":0.349,"s":125},{"v":0.363,"s":126.3},{"v":0.366,"s":129.4},{"v":0.379,"s":132.3},{"v":0.393,"s":134.6},{"v":0.403,"s":137.8},{"v":0.41,"s":141.4},{"v":0.42,"s":144.2}]},"encoding":{"x2":{"datum":0}}},
{"mark":{"type":"area","orient":"horizontal","color":"#4d4d4d"},"data":{"values":[{"v":0.106,"s":10},{"v":0.125,"s":11.9},{"v":0.132,"s":14.4},{"v":0.147,"s":17.2},{"v":0.179,"s":18.8},{"v":0.203,"s":20.4},{"v":0.211,"s":22.9},{"v":0.257,"s":23.9},{"v":0.27,"s":26.7},{"v":0.287,"s":28.3},{"v":0.311,"s":30.5},{"v":0.331,"s":31.7},{"v":0.344,"s":34.6},{"v":0.359,"s":38},{"v":0.373,"s":44},{"v":0.39,"s":45.6},{"v":0.404,"s":49.8},{"v":0.405,"s":53.5},{"v":0.422,"s":54.6},{"v":0.431,"s":56.1},{"v":0.434,"s":59.8},{"v":0.446,"s":61.7},{"v":0.45,"s":63.5},{"v":0.471,"s":66},{"v":0.472,"s":71.9},{"v":0.486,"s":74.3},{"v":0.501,"s":75.8},{"v":0.503,"s":78}]},"encoding":{"x2":{"datum":0}}},
{"mark":{"type":"text","font":"Open Sans","fontSize":8.5,"color":"#222"},"data":{"values":[{"v":-0.0155,"s":118,"t":"1"},{"v":-0.0155,"s":46,"t":"0"}]},"encoding":{"text":{"field":"t"}}},
{"mark":{"type":"text","font":"Open Sans","fontSize":12.5,"color":"#111"},"data":{"values":[{"v":0.174,"s":154.9,"t":"The silhouette plot for the 2 clusters."}]},"encoding":{"text":{"field":"t"}}},
{"mark":{"type":"text","font":"Liberation Serif","fontWeight":"bold","fontSize":26,"align":"left","baseline":"alphabetic","color":"#000"},"data":{"values":[{"v":-0.166,"s":165.5,"t":"E"}]},"encoding":{"text":{"field":"t"}}}
]}]},
{"width":400.5,"height":1,"mark":{"type":"rule","opacity":0},"encoding":{}},
{"width":377,"height":491.7,"title":{"text":"F","dx":-8,"offset":14},
"encoding":{"x":{"field":"x","type":"quantitative","title":null,"scale":{"domain":[0,122],"nice":false,"zero":false},"axis":{"orient":"top","labels":false,"tickSize":2,"tickColor":"#777","values":[0,1,2,3,4,5,6,7,8,9,10,11,12,13,14,15,16,17,18,19,20,21,22,23,24,25,26,27,28,29,30,31,32,33,34,35,36,37,38,39,40,41,42,43,44,45,46,47,48,49,50,51,52,53,54,55,56,57,58,59,60,61,62,63,64,65,66,67,68,69,70,71,72,73,74,75,76,77,78,79,80,81,82,83,84,85,86,87,88,89,90,91,92,93,94,95,96,97,98,99,100,101,102,103,104,105,106,107,108,109,110,111,112,113,114,115,116,117,118,119,120,121]}},"y":{"field":"y","type":"quantitative","scale":{"domain":[-13.5,136],"reverse":true,"nice":false,"zero":false},"axis":{"labels":false,"tickSize":2,"tickColor":"#777","title":"Gene","titleFont":"Liberation Serif","titleFontSize":15,"titleFontWeight":"bold","titleColor":"#000","titleX":-12,"titleY":252,"values":[0,1,2,3,4,5,6,7,8,9,10,11,12,13,14,15,16,17,18,19,20,21,22,23,24,25,26,27,28,29,30,31,32,33,34,35,36,37,38,39,40,41,42,43,44,45,46,47,48,49,50,51,52,53,54,55,56,57,58,59,60,61,62,63,64,65,66,67,68,69,70,71,72,73,74,75,76,77,78,79,80,81,82,83,84,85,86,87,88,89,90,91,92,93,94,95,96,97,98,99,100,101,102,103,104,105,106,107,108,109,110,111,112,113,114,115,116,117,118,119,120,121,122,123,124,125,126,127,128,129,130,131,132,133,134,135]}}},
"layer":[
{"mark":{"type":"rect","clip":true,"width":26,"height":27.5},
"data":{"values":[
{"x":0,"y":4,"v":-0.7},{"x":8,"y":4,"v":-0.8},{"x":16,"y":4,"v":-0.6},{"x":24,"y":4,"v":-0.5},{"x":32,"y":4,"v":-0.6},{"x":40,"y":4,"v":-0.7},{"x":48,"y":4,"v":-0.9},{"x":56,"y":4,"v":-0.8},{"x":64,"y":4,"v":-0.9},{"x":72,"y":4,"v":1},{"x":80,"y":4,"v":0.9},{"x":88,"y":4,"v":1.1},{"x":96,"y":4,"v":1},{"x":104,"y":4,"v":0.8},{"x":112,"y":4,"v":1},{"x":120,"y":4,"v":0.9},
{"x":0,"y":12,"v":-0.8},{"x":8,"y":12,"v":-0.7},{"x":16,"y":12,"v":-0.7},{"x":24,"y":12,"v":-0.6},{"x":32,"y":12,"v":-0.9},{"x":40,"y":12,"v":-0.8},{"x":48,"y":12,"v":-1},{"x":56,"y":12,"v":-1.1},{"x":64,"y":12,"v":-0.9},{"x":72,"y":12,"v":1.1},{"x":80,"y":12,"v":0.8},{"x":88,"y":12,"v":1},{"x":96,"y":12,"v":1.1},{"x":104,"y":12,"v":1},{"x":112,"y":12,"v":0.9},{"x":120,"y":12,"v":1.1},
{"x":0,"y":20,"v":-0.6},{"x":8,"y":20,"v":-0.7},{"x":16,"y":20,"v":-0.8},{"x":24,"y":20,"v":-0.8},{"x":32,"y":20,"v":-0.9},{"x":40,"y":20,"v":-1.1},{"x":48,"y":20,"v":-1.3},{"x":56,"y":20,"v":-1.3},{"x":64,"y":20,"v":-1.1},{"x":72,"y":20,"v":1},{"x":80,"y":20,"v":0.7},{"x":88,"y":20,"v":1.1},{"x":96,"y":20,"v":1.2},{"x":104,"y":20,"v":0.9},{"x":112,"y":20,"v":1.1},{"x":120,"y":20,"v":1},
{"x":0,"y":28,"v":-0.5},{"x":8,"y":28,"v":-0.6},{"x":16,"y":28,"v":-0.8},{"x":24,"y":28,"v":-0.7},{"x":32,"y":28,"v":-0.7},{"x":40,"y":28,"v":-0.9},{"x":48,"y":28,"v":-1.1},{"x":56,"y":28,"v":-1.4},{"x":64,"y":28,"v":-1.1},{"x":72,"y":28,"v":0.9},{"x":80,"y":28,"v":1},{"x":88,"y":28,"v":0.9},{"x":96,"y":28,"v":1.3},{"x":104,"y":28,"v":1.2},{"x":112,"y":28,"v":1.1},{"x":120,"y":28,"v":1},
{"x":0,"y":36,"v":-0.6},{"x":8,"y":36,"v":-0.5},{"x":16,"y":36,"v":-0.7},{"x":24,"y":36,"v":-0.5},{"x":32,"y":36,"v":-0.8},{"x":40,"y":36,"v":-0.7},{"x":48,"y":36,"v":-1.2},{"x":56,"y":36,"v":-1.4},{"x":64,"y":36,"v":-1},{"x":72,"y":36,"v":1},{"x":80,"y":36,"v":1.1},{"x":88,"y":36,"v":1},{"x":96,"y":36,"v":1.3},{"x":104,"y":36,"v":1},{"x":112,"y":36,"v":1.3},{"x":120,"y":36,"v":1.2},
{"x":0,"y":44,"v":-0.4},{"x":8,"y":44,"v":-0.4},{"x":16,"y":44,"v":-0.5},{"x":24,"y":44,"v":-0.4},{"x":32,"y":44,"v":-0.5},{"x":40,"y":44,"v":-0.7},{"x":48,"y":44,"v":-1},{"x":56,"y":44,"v":-1.2},{"x":64,"y":44,"v":-0.9},{"x":72,"y":44,"v":0.9},{"x":80,"y":44,"v":1},{"x":88,"y":44,"v":1},{"x":96,"y":44,"v":1.2},{"x":104,"y":44,"v":1.1},{"x":112,"y":44,"v":1.4},{"x":120,"y":44,"v":1.2},
{"x":0,"y":52,"v":0},{"x":8,"y":52,"v":0},{"x":16,"y":52,"v":-0.1},{"x":24,"y":52,"v":0},{"x":32,"y":52,"v":-0.1},{"x":40,"y":52,"v":-0.3},{"x":48,"y":52,"v":-0.5},{"x":56,"y":52,"v":-0.7},{"x":64,"y":52,"v":-0.5},{"x":72,"y":52,"v":0.9},{"x":80,"y":52,"v":0.9},{"x":88,"y":52,"v":1},{"x":96,"y":52,"v":1},{"x":104,"y":52,"v":0.9},{"x":112,"y":52,"v":1},{"x":120,"y":52,"v":1.1},
{"x":0,"y":60,"v":0.8},{"x":8,"y":60,"v":0.9},{"x":16,"y":60,"v":0.6},{"x":24,"y":60,"v":0.7},{"x":32,"y":60,"v":0.7},{"x":40,"y":60,"v":0.5},{"x":48,"y":60,"v":0.6},{"x":56,"y":60,"v":0.8},{"x":64,"y":60,"v":0.6},{"x":72,"y":60,"v":0.3},{"x":80,"y":60,"v":0.1},{"x":88,"y":60,"v":-0.2},{"x":96,"y":60,"v":-0.3},{"x":104,"y":60,"v":-0.2},{"x":112,"y":60,"v":-0.1},{"x":120,"y":60,"v":0.1},
{"x":0,"y":68,"v":1.2},{"x":8,"y":68,"v":1},{"x":16,"y":68,"v":1.2},{"x":24,"y":68,"v":0.9},{"x":32,"y":68,"v":1.3},{"x":40,"y":68,"v":1},{"x":48,"y":68,"v":1.4},{"x":56,"y":68,"v":1.6},{"x":64,"y":68,"v":1.3},{"x":72,"y":68,"v":-1.4},{"x":80,"y":68,"v":-1.3},{"x":88,"y":68,"v":-0.8},{"x":96,"y":68,"v":-1},{"x":104,"y":68,"v":-0.8},{"x":112,"y":68,"v":-1},{"x":120,"y":68,"v":-0.2},
{"x":0,"y":76,"v":1.1},{"x":8,"y":76,"v":1.1},{"x":16,"y":76,"v":1.3},{"x":24,"y":76,"v":1},{"x":32,"y":76,"v":1.2},{"x":40,"y":76,"v":0.9},{"x":48,"y":76,"v":1.3},{"x":56,"y":76,"v":1.6},{"x":64,"y":76,"v":1.3},{"x":72,"y":76,"v":-1.5},{"x":80,"y":76,"v":-1.5},{"x":88,"y":76,"v":-0.9},{"x":96,"y":76,"v":-1.1},{"x":104,"y":76,"v":-0.9},{"x":112,"y":76,"v":-1.1},{"x":120,"y":76,"v":-0.4},
{"x":0,"y":84,"v":1},{"x":8,"y":84,"v":1.2},{"x":16,"y":84,"v":1.1},{"x":24,"y":84,"v":1},{"x":32,"y":84,"v":1.1},{"x":40,"y":84,"v":0.9},{"x":48,"y":84,"v":1.1},{"x":56,"y":84,"v":1.5},{"x":64,"y":84,"v":1.3},{"x":72,"y":84,"v":-1.5},{"x":80,"y":84,"v":-1.2},{"x":88,"y":84,"v":-1},{"x":96,"y":84,"v":-1.1},{"x":104,"y":84,"v":-1},{"x":112,"y":84,"v":-1.1},{"x":120,"y":84,"v":-0.2},
{"x":0,"y":92,"v":1},{"x":8,"y":92,"v":1.1},{"x":16,"y":92,"v":1.1},{"x":24,"y":92,"v":0.9},{"x":32,"y":92,"v":1.1},{"x":40,"y":92,"v":0.9},{"x":48,"y":92,"v":1.2},{"x":56,"y":92,"v":1.4},{"x":64,"y":92,"v":1.2},{"x":72,"y":92,"v":-1.6},{"x":80,"y":92,"v":-1.5},{"x":88,"y":92,"v":-1.1},{"x":96,"y":92,"v":-1.2},{"x":104,"y":92,"v":-1},{"x":112,"y":92,"v":-1.2},{"x":120,"y":92,"v":-0.5},
{"x":0,"y":100,"v":1.2},{"x":8,"y":100,"v":1.1},{"x":16,"y":100,"v":1.2},{"x":24,"y":100,"v":1},{"x":32,"y":100,"v":1.1},{"x":40,"y":100,"v":0.9},{"x":48,"y":100,"v":1.2},{"x":56,"y":100,"v":1.5},{"x":64,"y":100,"v":1.2},{"x":72,"y":100,"v":-1.5},{"x":80,"y":100,"v":-1.3},{"x":88,"y":100,"v":-1.1},{"x":96,"y":100,"v":-1.2},{"x":104,"y":100,"v":-1.1},{"x":112,"y":100,"v":-1.2},{"x":120,"y":100,"v":-0.4},
{"x":0,"y":108,"v":1.1},{"x":8,"y":108,"v":1.1},{"x":16,"y":108,"v":1.1},{"x":24,"y":108,"v":1.1},{"x":32,"y":108,"v":1.1},{"x":40,"y":108,"v":1},{"x":48,"y":108,"v":1.1},{"x":56,"y":108,"v":1.3},{"x":64,"y":108,"v":1.2},{"x":72,"y":108,"v":-1.5},{"x":80,"y":108,"v":-1.3},{"x":88,"y":108,"v":-1},{"x":96,"y":108,"v":-1.1},{"x":104,"y":108,"v":-1},{"x":112,"y":108,"v":-1.1},{"x":120,"y":108,"v":-0.3},
{"x":0,"y":116,"v":1.1},{"x":8,"y":116,"v":1},{"x":16,"y":116,"v":1.2},{"x":24,"y":116,"v":1.1},{"x":32,"y":116,"v":1.2},{"x":40,"y":116,"v":1},{"x":48,"y":116,"v":1},{"x":56,"y":116,"v":1.3},{"x":64,"y":116,"v":1.2},{"x":72,"y":116,"v":-1.6},{"x":80,"y":116,"v":-1.4},{"x":88,"y":116,"v":-1.1},{"x":96,"y":116,"v":-1.3},{"x":104,"y":116,"v":-1.1},{"x":112,"y":116,"v":-1.2},{"x":120,"y":116,"v":-0.4},
{"x":0,"y":124,"v":1.1},{"x":8,"y":124,"v":0.8},{"x":16,"y":124,"v":1.2},{"x":24,"y":124,"v":1.1},{"x":32,"y":124,"v":1.2},{"x":40,"y":124,"v":1},{"x":48,"y":124,"v":1.1},{"x":56,"y":124,"v":1.3},{"x":64,"y":124,"v":1.3},{"x":72,"y":124,"v":-1.4},{"x":80,"y":124,"v":-1.3},{"x":88,"y":124,"v":-1},{"x":96,"y":124,"v":-1.2},{"x":104,"y":124,"v":-1},{"x":112,"y":124,"v":-1.1},{"x":120,"y":124,"v":-0.3},
{"x":0,"y":132,"v":1.1},{"x":8,"y":132,"v":0.8},{"x":16,"y":132,"v":1},{"x":24,"y":132,"v":0.9},{"x":32,"y":132,"v":1},{"x":40,"y":132,"v":0.9},{"x":48,"y":132,"v":1},{"x":56,"y":132,"v":1.2},{"x":64,"y":132,"v":1.1},{"x":72,"y":132,"v":-1.2},{"x":80,"y":132,"v":-1.1},{"x":88,"y":132,"v":-0.8},{"x":96,"y":132,"v":-1},{"x":104,"y":132,"v":-0.8},{"x":112,"y":132,"v":-0.9},{"x":120,"y":132,"v":-0.1}
]},
"encoding":{"color":{"field":"v","type":"quantitative","title":null,"scale":{"scheme":"magma","domain":[-4.4,6]},"legend":{"orient":"none","legendX":137.7,"legendY":504.5,"direction":"horizontal","gradientLength":104.7,"gradientThickness":12,"values":[-4,-2,0,2,4],"labelFont":"Liberation Serif","labelFontSize":15,"labelOffset":1,"encoding":{"labels":{"align":{"value":"center"}}}}}}},
{"mark":{"type":"rect","clip":true},
"data":{"values":[
{"x":11,"b":12.5,"y":68,"d":136,"v":2},{"x":35,"b":36.5,"y":68,"d":136,"v":2},{"x":52,"b":54,"y":66,"d":136,"v":2.4},{"x":59,"b":60.5,"y":66,"d":136,"v":2.1},{"x":65,"b":66.5,"y":68,"d":136,"v":2},{"x":18,"b":19,"y":70,"d":136,"v":1.8},{"x":44,"b":45,"y":68,"d":136,"v":0.6},{"x":9,"b":10,"y":68,"d":136,"v":0.2},
{"x":68.5,"b":70,"y":66,"d":136,"v":-3},{"x":80.5,"b":81.5,"y":70,"d":136,"v":-3},{"x":82,"b":83.5,"y":66,"d":136,"v":-3.3},{"x":91,"b":92.5,"y":66,"d":136,"v":-3.3},{"x":95,"b":96,"y":68,"d":136,"v":-3},{"x":102,"b":103,"y":70,"d":136,"v":-2.5},{"x":106,"b":107,"y":72,"d":136,"v":-2.4},{"x":114.5,"b":116,"y":70,"d":136,"v":-2.8},{"x":74,"b":75,"y":68,"d":136,"v":-2.2},{"x":76,"b":78,"y":70,"d":136,"v":-2},
{"x":95,"b":97,"y":10,"d":42,"v":1.7},{"x":101.5,"b":103,"y":15,"d":30,"v":1.7},{"x":105,"b":108,"y":30,"d":42,"v":1.9},{"x":82,"b":83,"y":0,"d":12,"v":1.8},{"x":70,"b":71,"y":14,"d":45,"v":1.6},{"x":90,"b":91,"y":0,"d":30,"v":1.7},{"x":48,"b":56,"y":14,"d":24,"v":-1.5},
{"x":0,"b":68,"y":64,"d":65,"v":0.1},{"x":0,"b":68,"y":131,"d":132,"v":0.5},
{"x":69,"b":70,"y":10,"d":11,"v":3.5},{"x":33,"b":34,"y":15.5,"d":16.5,"v":3.5},{"x":82,"b":83,"y":1,"d":2,"v":3},{"x":114,"b":115,"y":27,"d":28,"v":5.5},{"x":114,"b":115,"y":3,"d":4,"v":3.5},{"x":82,"b":83,"y":30,"d":31,"v":4},{"x":90,"b":91,"y":30,"d":31,"v":4},{"x":52,"b":53,"y":5,"d":6,"v":-3.5},{"x":52,"b":53,"y":31,"d":32,"v":-3.5},{"x":52,"b":53,"y":48,"d":49,"v":-4},{"x":76,"b":77,"y":50,"d":51,"v":-4},{"x":82,"b":83,"y":51,"d":52,"v":-3.5},{"x":2,"b":3,"y":56,"d":57,"v":-4},{"x":59,"b":60,"y":55,"d":56,"v":5},{"x":114,"b":115,"y":53,"d":54,"v":5},{"x":12,"b":13,"y":49,"d":50,"v":3.5},{"x":105,"b":106,"y":48,"d":49,"v":3.5},{"x":91,"b":92,"y":36,"d":37,"v":3},{"x":9,"b":10,"y":63,"d":64,"v":4.5},{"x":15,"b":16,"y":64,"d":65,"v":4.5},{"x":52.5,"b":53.5,"y":100,"d":102,"v":4.5},{"x":9,"b":10,"y":131,"d":132,"v":5},{"x":109,"b":110,"y":81,"d":82,"v":3.5},{"x":82,"b":84,"y":87,"d":88,"v":3},{"x":9,"b":10,"y":87,"d":88,"v":3.5},{"x":52,"b":53,"y":74,"d":75,"v":3.5},{"x":91,"b":92,"y":116,"d":118,"v":-4},{"x":69,"b":70,"y":117,"d":118,"v":-4},{"x":45,"b":46,"y":121,"d":122,"v":-3.5},{"x":17,"b":18,"y":75,"d":76,"v":-3},{"x":114,"b":115,"y":117,"d":118,"v":-3.5},{"x":82,"b":83,"y":84,"d":86,"v":-4},{"x":82,"b":83,"y":94,"d":96,"v":-4},{"x":69,"b":70,"y":64,"d":65,"v":-4}
]},
"encoding":{"x2":{"field":"b"},"y2":{"field":"d"},"color":{"field":"v","type":"quantitative","title":null,"scale":{"scheme":"magma","domain":[-4.4,6]},"legend":null}}},
{"mark":{"type":"rect","clip":true},
"data":{"values":[{"x":0,"b":68,"y":-13.5,"d":-4.9,"f":"#531c86"},{"x":68,"b":122,"y":-13.5,"d":-4.9,"f":"#c9503a"},{"x":0,"b":32,"y":-4.9,"d":0,"f":"#ff0000"},{"x":32,"b":68,"y":-4.9,"d":0,"f":"#00007f"},{"x":68,"b":100,"y":-4.9,"d":0,"f":"#ff0000"},{"x":100,"b":122,"y":-4.9,"d":0,"f":"#00007f"}]},
"encoding":{"x2":{"field":"b"},"y2":{"field":"d"},"fill":{"field":"f","type":"nominal","scale":null,"legend":null}}},
{"mark":{"type":"text","font":"Liberation Sans","fontWeight":"bold","fontSize":12},
"data":{"values":[{"x":34,"y":-9.2,"t":"Synaptic","f":"#9acd32"},{"x":94.8,"y":-9.2,"t":"Inflammatory","f":"#111111"}]},
"encoding":{"text":{"field":"t"},"fill":{"field":"f","type":"nominal","scale":null,"legend":null}}},
{"mark":{"type":"text","font":"Liberation Sans","fontSize":11.5},
"data":{"values":[{"x":15.6,"y":-2.4,"t":"Female","f":"#220000"},{"x":49.8,"y":-2.4,"t":"Male","f":"#7fa83a"},{"x":83.8,"y":-2.4,"t":"Female","f":"#220000"},{"x":110.8,"y":-2.4,"t":"Male","f":"#7fa83a"}]},
"encoding":{"text":{"field":"t"},"fill":{"field":"f","type":"nominal","scale":null,"legend":null}}}
]}
]}
]}
